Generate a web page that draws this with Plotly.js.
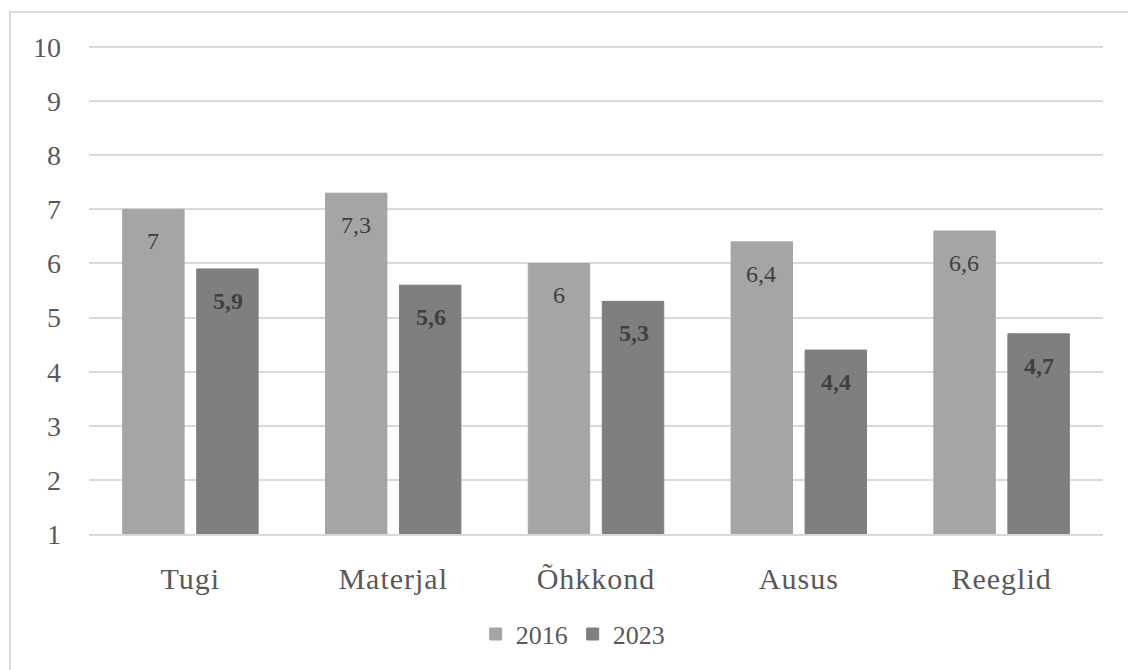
<!DOCTYPE html>
<html>
<head>
<meta charset="utf-8">
<script src="https://cdn.plot.ly/plotly-3.0.1.min.js"></script>
<style>
  html, body { margin: 0; padding: 0; background: #ffffff; overflow: hidden; }
  #chart { width: 1128px; height: 670px; position: absolute; left: 0; top: 0; }
  #frame { position: absolute; left: 9px; top: 11px; width: 1300px; height: 900px;
           border: 2px solid #d9d9d9; pointer-events: none; box-sizing: border-box; }
  #chart .xtick text { letter-spacing: 1px; }
</style>
</head>
<body>
<div id="chart"></div>
<div id="frame"></div>
<script>
const categories = ["Tugi", "Materjal", "Õhkkond", "Ausus", "Reeglid"];
const values2016 = [7, 7.3, 6, 6.4, 6.6];
const values2023 = [5.9, 5.6, 5.3, 4.4, 4.7];
const seriesNames = ["2016", "2023"];
const yTicks = [1, 2, 3, 4, 5, 6, 7, 8, 9, 10];

const fmt = v => String(v).replace('.', ',');
const FONT = "Liberation Serif, Times New Roman, serif";

const traces = [
  { type: 'bar', name: seriesNames[0], x: categories, y: values2016,
    marker: { color: '#a5a5a5', line: { color: '#a5a5a5', width: 1 } }, hoverinfo: 'x+y' },
  { type: 'bar', name: seriesNames[1], x: categories, y: values2023,
    marker: { color: '#7f7f7f', line: { color: '#7f7f7f', width: 1 } }, hoverinfo: 'x+y' }
];

const annotations = [];
categories.forEach((c, i) => {
  annotations.push({ x: c, y: values2016[i], xref: 'x', yref: 'y', text: fmt(values2016[i]),
    showarrow: false, xshift: -37.5, yshift: -32, yanchor: 'middle',
    font: { family: FONT, size: 24, color: '#404040' } });
  annotations.push({ x: c, y: values2023[i], xref: 'x', yref: 'y', text: '<b>' + fmt(values2023[i]) + '</b>',
    showarrow: false, xshift: 37.5, yshift: -32, yanchor: 'middle',
    font: { family: FONT, size: 24, color: '#404040' } });
});

const layout = {
  width: 1128, height: 670,
  margin: { l: 89, r: 25, t: 46, b: 136 },
  paper_bgcolor: 'rgba(0,0,0,0)', plot_bgcolor: 'rgba(0,0,0,0)',
  barmode: 'group', bargap: 0.27, bargroupgap: 0.17,
  font: { family: FONT, color: '#595959' },
  xaxis: { type: 'category', showgrid: false, zeroline: false, showline: true,
    linecolor: '#d9d9d9', linewidth: 2, ticks: '',
    tickfont: { family: FONT, size: 30, color: '#595959' }, ticklabelstandoff: 17 },
  yaxis: { range: [1, 10.02], tickvals: yTicks, ticktext: yTicks.map(String),
    showgrid: true, gridcolor: '#d9d9d9', gridwidth: 2, zeroline: false, showline: false,
    ticks: '', tickfont: { family: FONT, size: 28, color: '#595959' }, ticklabelstandoff: 27 },
  showlegend: true,
  legend: { orientation: 'h', x: 0.477, xanchor: 'center', y: -0.157, yanchor: 'top',
    font: { family: FONT, size: 26, color: '#595959' }, itemwidth: 30, traceorder: 'normal' },
  annotations: annotations
};

Plotly.newPlot('chart', traces, layout, { displayModeBar: false, staticPlot: true });
</script>
</body>
</html>
